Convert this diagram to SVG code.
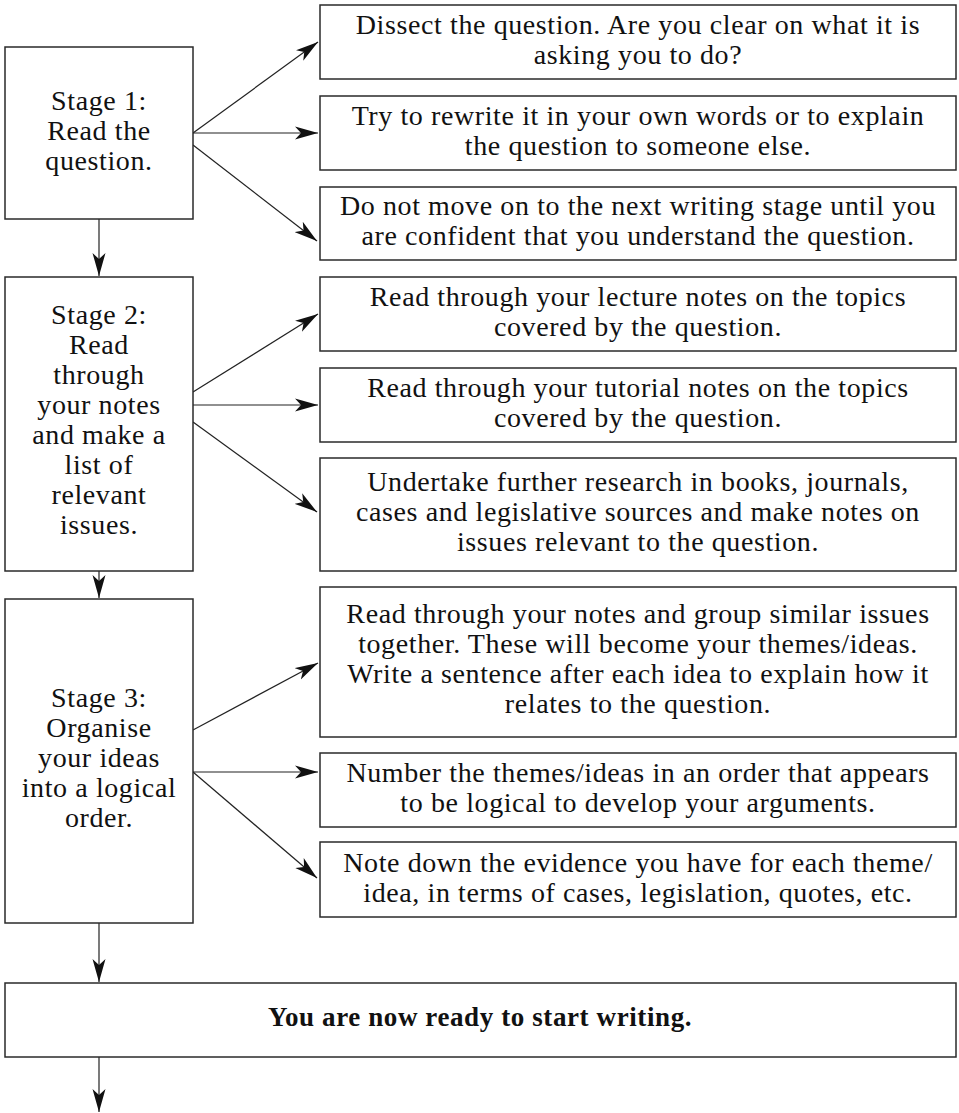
<svg xmlns="http://www.w3.org/2000/svg" width="959" height="1113" viewBox="0 0 959 1113">
<style>
.box{fill:#fff;stroke:#2a2a2a;stroke-width:1.5}
.t{font-family:"Liberation Serif","Times New Roman",serif;font-size:28px;letter-spacing:0.6px;fill:#111;text-anchor:middle}
.b{font-weight:bold;font-size:27px}
.c{fill:none;stroke:#222;stroke-width:1.2}
</style>
<defs>
<marker id="ah" markerUnits="userSpaceOnUse" viewBox="-23 -7 23 14" refX="0" refY="0" markerWidth="23" markerHeight="14" orient="auto">
<path d="M0,0 L-23,-6.5 L-17,0 L-23,6.5 Z" fill="#111"/>
</marker>
</defs>
<g id="connectors">
<line class="c" x1="193" y1="133" x2="318" y2="42" marker-end="url(#ah)"/>
<line class="c" x1="193" y1="133" x2="318" y2="133" marker-end="url(#ah)"/>
<line class="c" x1="193" y1="145" x2="317" y2="241" marker-end="url(#ah)"/>
<line class="c" x1="193" y1="392" x2="318" y2="314" marker-end="url(#ah)"/>
<line class="c" x1="193" y1="405" x2="318" y2="405" marker-end="url(#ah)"/>
<line class="c" x1="193" y1="422" x2="317" y2="512" marker-end="url(#ah)"/>
<line class="c" x1="193" y1="730" x2="318" y2="663" marker-end="url(#ah)"/>
<line class="c" x1="193" y1="772" x2="318" y2="772" marker-end="url(#ah)"/>
<line class="c" x1="193" y1="772" x2="317" y2="878" marker-end="url(#ah)"/>
<line class="c" x1="99" y1="219" x2="99" y2="276" marker-end="url(#ah)"/>
<line class="c" x1="99" y1="571" x2="99" y2="598" marker-end="url(#ah)"/>
<line class="c" x1="99" y1="923" x2="99" y2="982" marker-end="url(#ah)"/>
<line class="c" x1="99" y1="1057" x2="99" y2="1112" marker-end="url(#ah)"/>
</g>
<g id="stage1">
<rect class="box" x="5" y="47" width="188" height="172"/>
<text class="t" x="99" y="109.5">Stage 1:</text>
<text class="t" x="99" y="139.5">Read the</text>
<text class="t" x="99" y="169.5">question.</text>
</g>
<g id="stage2">
<rect class="box" x="5" y="277" width="188" height="294"/>
<text class="t" x="99" y="324">Stage 2:</text>
<text class="t" x="99" y="354">Read</text>
<text class="t" x="99" y="384">through</text>
<text class="t" x="99" y="414">your notes</text>
<text class="t" x="99" y="444">and make a</text>
<text class="t" x="99" y="474">list of</text>
<text class="t" x="99" y="504">relevant</text>
<text class="t" x="99" y="534">issues.</text>
</g>
<g id="stage3">
<rect class="box" x="5" y="599" width="188" height="324"/>
<text class="t" x="99" y="707">Stage 3:</text>
<text class="t" x="99" y="737">Organise</text>
<text class="t" x="99" y="767">your ideas</text>
<text class="t" x="99" y="797">into a logical</text>
<text class="t" x="99" y="827">order.</text>
</g>
<g id="box1">
<rect class="box" x="320" y="5" width="636" height="74"/>
<text class="t" x="638" y="33.5">Dissect the question. Are you clear on what it is</text>
<text class="t" x="638" y="63.5">asking you to do?</text>
</g>
<g id="box2">
<rect class="box" x="320" y="96" width="636" height="74"/>
<text class="t" x="638" y="124.5">Try to rewrite it in your own words or to explain</text>
<text class="t" x="638" y="154.5">the question to someone else.</text>
</g>
<g id="box3">
<rect class="box" x="320" y="187" width="636" height="73"/>
<text class="t" x="638" y="215">Do not move on to the next writing stage until you</text>
<text class="t" x="638" y="245">are confident that you understand the question.</text>
</g>
<g id="box4">
<rect class="box" x="320" y="277" width="636" height="74"/>
<text class="t" x="638" y="305.5">Read through your lecture notes on the topics</text>
<text class="t" x="638" y="335.5">covered by the question.</text>
</g>
<g id="box5">
<rect class="box" x="320" y="368" width="636" height="74"/>
<text class="t" x="638" y="396.5">Read through your tutorial notes on the topics</text>
<text class="t" x="638" y="426.5">covered by the question.</text>
</g>
<g id="box6">
<rect class="box" x="320" y="458" width="636" height="113"/>
<text class="t" x="638" y="491">Undertake further research in books, journals,</text>
<text class="t" x="638" y="521">cases and legislative sources and make notes on</text>
<text class="t" x="638" y="551">issues relevant to the question.</text>
</g>
<g id="box7">
<rect class="box" x="320" y="587" width="636" height="150"/>
<text class="t" x="638" y="623">Read through your notes and group similar issues</text>
<text class="t" x="638" y="653">together. These will become your themes/ideas.</text>
<text class="t" x="638" y="683">Write a sentence after each idea to explain how it</text>
<text class="t" x="638" y="713">relates to the question.</text>
</g>
<g id="box8">
<rect class="box" x="320" y="753" width="636" height="74"/>
<text class="t" x="638" y="782">Number the themes/ideas in an order that appears</text>
<text class="t" x="638" y="812">to be logical to develop your arguments.</text>
</g>
<g id="box9">
<rect class="box" x="320" y="842" width="636" height="75"/>
<text class="t" x="638" y="872">Note down the evidence you have for each theme/</text>
<text class="t" x="638" y="902">idea, in terms of cases, legislation, quotes, etc.</text>
</g>
<g id="final">
<rect class="box" x="5" y="983" width="951" height="74"/>
<text class="t b" x="480" y="1026">You are now ready to start writing.</text>
</g>
</svg>
